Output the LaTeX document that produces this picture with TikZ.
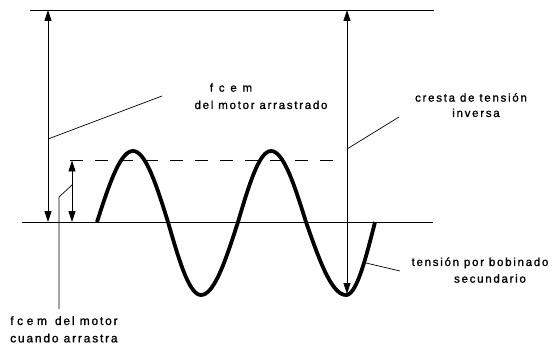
\documentclass[tikz,border=0pt]{standalone}
\usepackage{fontspec}
\setmainfont{Liberation Sans}
\newfontfamily\lblfont{Liberation Sans}[LetterSpace=15,FakeBold=1.2]
\newfontfamily\lblwide{Liberation Sans}[LetterSpace=50,FakeBold=1.2]
\newfontfamily\lblmid{Liberation Sans}[LetterSpace=30,FakeBold=1.2]
\usetikzlibrary{arrows.meta}
\begin{document}
\begin{tikzpicture}[x=1pt,y=-1pt,
  base/.style={line width=0.8pt},
  dim/.style={line width=0.8pt, {Triangle[length=11pt,width=7pt]}-{Triangle[length=11pt,width=7pt]}},
  wave/.style={line width=3.8pt, line join=round},
  dashline/.style={line width=0.9pt, dash pattern=on 13pt off 12pt},
  leader/.style={line width=0.7pt},
  lbl/.style={font=\lblfont\fontsize{11.5}{13}\selectfont, inner sep=0pt, anchor=mid},
  lblb/.style={font=\lblfont\fontsize{12}{14}\selectfont, inner sep=0pt, anchor=mid west}]
\useasboundingbox (0,0) rectangle (553,347);
\fill[white] (0,0) rectangle (553,347);
% reference lines
\coordinate (tl) at (30,10);
\coordinate (tr) at (434,10);
\coordinate (bl) at (22,222);
\coordinate (br) at (433,222);
\draw[base] (tl) -- (tr);
\draw[base] (bl) -- (br);
% dashed crest of back-emf
\coordinate (d1) at (70,160.5);
\coordinate (d2) at (334,160.5);
\draw[dashline] (d1) -- (d2);
% dimension arrows
\coordinate (la1) at (48,10);
\coordinate (la2) at (48,222);
\draw[dim] (la1) -- (la2);
\coordinate (sa1) at (72,160.5);
\coordinate (sa2) at (72,222);
\draw[dim] (sa1) -- (sa2);
\coordinate (ra1) at (347,10);
\coordinate (ra2) at (347,294);
\draw[dim] (ra1) -- (ra2);
% secondary voltage wave
\draw[wave] (97,222)
  -- plot[domain=0:90,samples=18] ({97+36*\x/90},{222-71*sin(\x)})
  -- plot[domain=90:180,samples=18] ({133+35*(\x-90)/90},{222-71*sin(\x)})
  -- plot[domain=180:270,samples=18] ({168+33*(\x-180)/90},{222-73*sin(\x)})
  -- plot[domain=270:360,samples=18] ({201+37*(\x-270)/90},{222-73*sin(\x)})
  -- plot[domain=360:450,samples=18] ({238+33*(\x-360)/90},{222-71*sin(\x)})
  -- plot[domain=450:540,samples=18] ({271+35*(\x-450)/90},{222-71*sin(\x)})
  -- plot[domain=540:630,samples=18] ({306+40*(\x-540)/90},{222-73*sin(\x)})
  -- plot[domain=630:720,samples=18] ({346+29*(\x-630)/90},{222-73*sin(\x)});
% labels
\node[lbl, font=\lblwide\fontsize{11.5}{13}\selectfont] (fc1) at (231,89) {fcem};
\node[lbl] (fc2) at (261,106.3) {del motor arrastrado};
\node[lbl] (cr1) at (471,99) {cresta de tensión};
\node[lbl] (cr2) at (476,114.3) {inversa};
\node[lbl] (tb1) at (480,263.3) {tensión por bobinado};
\node[lbl] (tb2) at (490,280) {secundario};
\node[lblb] (fd1) at (10,322.3) {{\lblmid fcem}\hspace{8pt}del motor};
\node[lblb] (fd2) at (10,339.7) {cuando arrastra};
% leaders
\coordinate (ld1a) at (48,139);
\coordinate (ld1b) at (162,96);
\draw[leader] (ld1a) -- (ld1b);
\coordinate (ld2a) at (347,149);
\coordinate (ld2b) at (399,117);
\draw[leader] (ld2a) -- (ld2b);
\coordinate (ld3a) at (366,263);
\coordinate (ld3b) at (400,271);
\draw[leader] (ld3a) -- (ld3b);
\coordinate (ld4a) at (72,185);
\coordinate (ld4b) at (59,197);
\coordinate (ld4c) at (59,309);
\draw[leader] (ld4a) -- (ld4b) -- (ld4c);
\end{tikzpicture}
\end{document}
